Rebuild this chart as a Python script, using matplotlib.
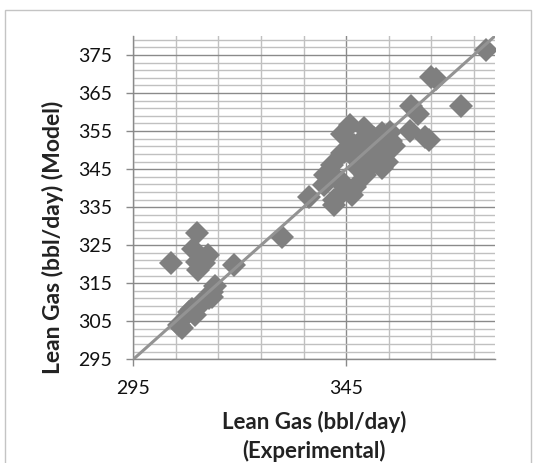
import matplotlib
matplotlib.use("Agg")
import matplotlib.pyplot as plt
from matplotlib.patches import Rectangle
import numpy as np

# Lean gas flow: experimental vs. model (bbl/day)
experimental = [
    378.0, 365.0, 366.2, 372.1, 360.3, 361.8, 360.0, 363.5, 364.5, 355.3,
    356.2, 355.5,
    346.0, 344.0, 349.1, 351.5, 353.5, 346.8, 344.4, 349.5, 347.2, 353.4,
    353.4, 354.6, 351.5, 349.5, 347.9, 341.7, 340.1, 339.7, 342.1, 347.2,
    346.4, 344.0, 344.0, 342.3, 344.0, 342.1, 336.2, 350.5, 348.5, 352.0,
    329.9, 318.6, 303.9, 309.9, 309.1, 312.6, 311.5, 309.9, 310.2, 311.6,
    314.2, 313.6, 312.7, 311.5, 310.6, 308.8, 309.6, 308.2, 305.8, 306.5,
    313.5,
]
model = [
    376.3, 369.2, 368.8, 361.6, 361.5, 359.6, 354.9, 353.5, 352.7, 354.8,
    351.0, 352.5,
    356.5, 354.3, 355.8, 353.2, 354.5, 351.4, 349.6, 349.6, 347.9, 348.8,
    345.3, 347.0, 346.6, 343.5, 345.3, 346.1, 343.5, 340.9, 336.9, 340.4,
    338.2, 341.7, 349.2, 343.0, 338.7, 335.5, 337.8, 351.0, 352.5, 350.0,
    327.2, 319.7, 320.3, 328.3, 323.9, 322.4, 321.5, 320.5, 318.5, 320.4,
    314.4, 312.6, 311.0, 310.3, 309.5, 308.2, 306.6, 307.5, 304.0, 303.3,
    311.5,
]

axis_limits = [295, 380]
x_major = [295, 345]
x_minor = list(range(295, 380, 10))
y_major = list(range(295, 376, 10))
y_minor = list(range(295, 380, 2))

plt.rcParams["font.family"] = ["Lato", "DejaVu Sans"]

fig = plt.figure(figsize=(5.36, 4.63), dpi=100)
fig.patch.set_facecolor("white")

# light chart-area frame
fig.patches.append(Rectangle((5 / 536, -0.05), 526 / 536, 1.05 - 10 / 463,
                             transform=fig.transFigure, fill=False,
                             edgecolor="#c4c4c4", linewidth=1.0))

ax = fig.add_axes([133.3 / 536, 103.7 / 463, 361.7 / 536, 323.3 / 463])
ax.set_xlim(axis_limits)
ax.set_ylim(axis_limits)

ax.set_xticks(x_major)
ax.set_xticks(x_minor, minor=True)
ax.set_yticks(y_major)
ax.set_yticks(y_minor, minor=True)

ax.set_axisbelow(True)
ax.grid(which="minor", axis="both", color="#c0c0c0", linewidth=1.0)
ax.grid(which="major", axis="both", color="#8a8a8a", linewidth=1.0)

for side in ("top", "right"):
    ax.spines[side].set_visible(False)
for side in ("left", "bottom"):
    ax.spines[side].set_color("#8a8a8a")
    ax.spines[side].set_linewidth(1.0)

ax.tick_params(which="major", direction="out", length=5, width=1.0,
               color="#8a8a8a", labelsize=14, labelcolor="#111111")
ax.tick_params(axis="y", which="major", pad=10)
ax.tick_params(axis="x", which="major", pad=10)
ax.tick_params(which="minor", length=0)

ax.plot(experimental, model, linestyle="none", marker="D", markersize=12,
        markerfacecolor="#7f7f7f", markeredgewidth=0, zorder=3)
ax.plot(axis_limits, axis_limits, color="#939393", linewidth=2.2, zorder=4,
        solid_capstyle="butt")

ax.set_xlabel("Lean Gas (bbl/day)\n(Experimental)", fontsize=16,
              fontweight="bold", color="#222222", linespacing=1.4,
              labelpad=10)
ax.set_ylabel("Lean Gas (bbl/day) (Model)", fontsize=16.5, fontweight="bold",
              color="#222222")
ax.yaxis.set_label_coords(-0.192, 0.378)

fig.savefig("out.png", dpi=100, facecolor="white")
